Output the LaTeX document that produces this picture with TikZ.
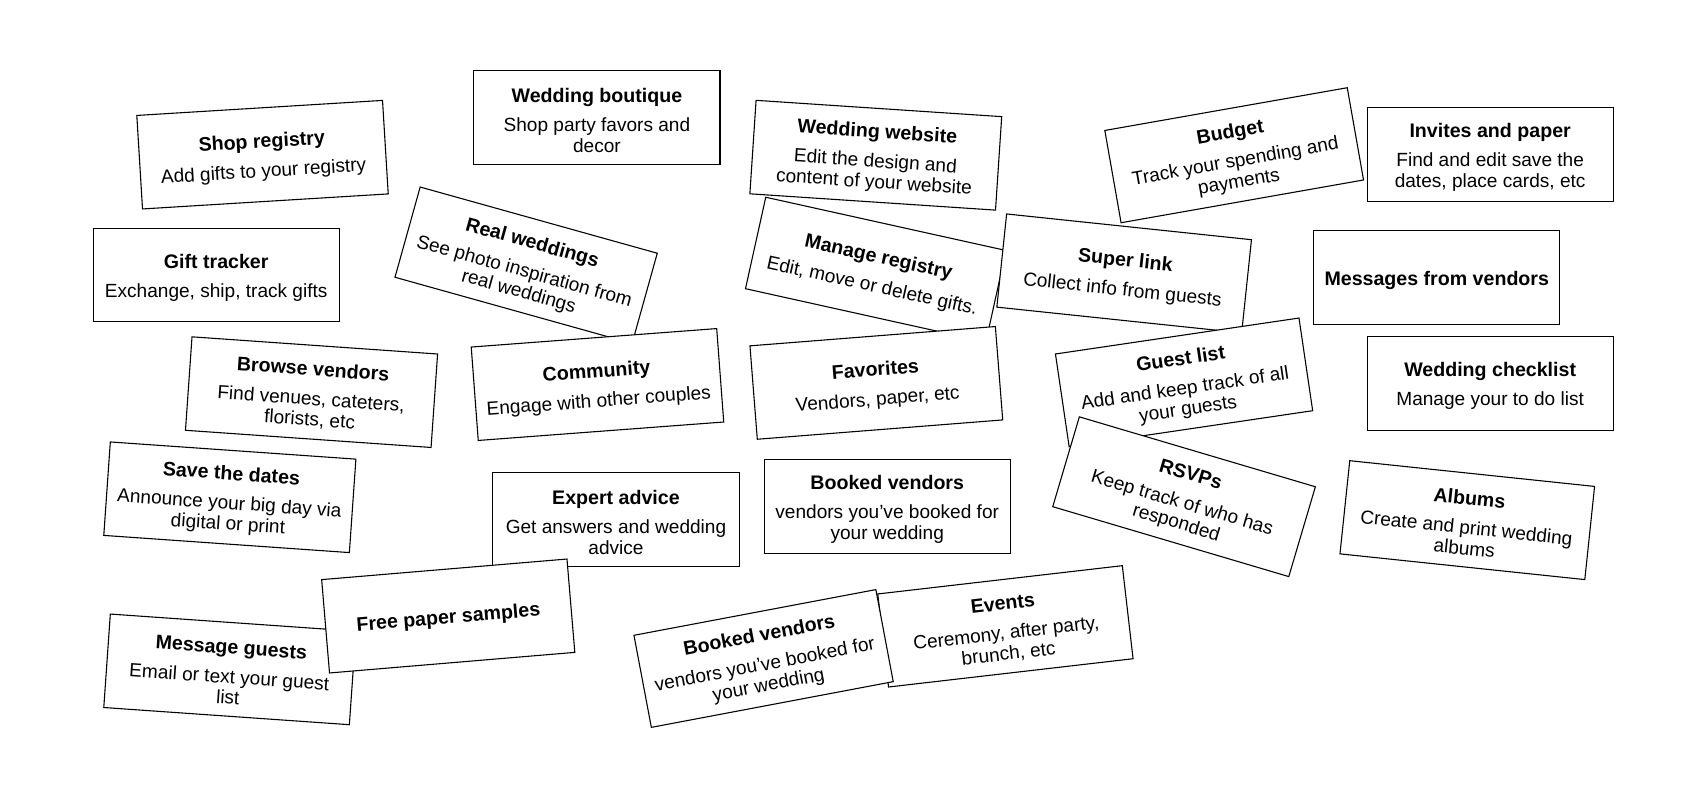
\documentclass[tikz,border=0pt]{standalone}
\usepackage{fontspec}
\setmainfont{Liberation Sans}
\usepackage{tikz}
\newcommand{\cardttl}[1]{{\fontsize{18}{19}\selectfont\bfseries\rule{0pt}{18pt}#1}}

\begin{document}
\begin{tikzpicture}[
  x=1pt, y=-1pt,
  card/.style={rectangle, draw=black, line width=1pt, fill=white,
               minimum width=226pt, minimum height=86pt, inner sep=0pt,
               align=center, font=\fontsize{17.5}{19}\selectfont}
]
\useasboundingbox (0,0) rectangle (1568,734);

\node[card, rotate=3.5] (shopreg) at (241,142)
      {\cardttl{Shop registry}\\[8pt] Add gifts to your registry};
\node[card] (boutique) at (548,108)
      {\cardttl{Wedding boutique}\\[8pt] Shop party favors and\\ decor};
\node[card, rotate=-12.5] (managereg) at (804,247.5)
      {\cardttl{Manage registry}\\[8pt] Edit, move or delete gifts.};
\node[card, rotate=-3.8] (website) at (804,142.5)
      {\cardttl{Wedding website}\\[8pt] Edit the design and\\ content of your website};
\node[card, rotate=10] (budget) at (1133,142.5)
      {\cardttl{Budget}\\[8pt] Track your spending and\\ payments};
\node[card] (invites) at (1368,142)
      {\cardttl{Invites and paper}\\[8pt] Find and edit save the\\ dates, place cards, etc};
\node[card] (gifttrack) at (198.5,252.5)
      {\cardttl{Gift tracker}\\[8pt] Exchange, ship, track gifts};
\node[card, rotate=-15.6] (realwed) at (483,243.5)
      {\cardttl{Real weddings}\\[8pt] See photo inspiration from\\ real weddings};
\node[card, rotate=-6] (superlink) at (1032,251)
      {\cardttl{Super link}\\[8pt] Collect info from guests};
\node[card] (msgvendors) at (1319,255)
      {\cardttl{Messages from vendors}};
\node[card, rotate=-4] (browse) at (286,360)
      {\cardttl{Browse vendors}\\[8pt] Find venues, cateters,\\ florists, etc};
\node[card, rotate=4.3] (community) at (548.5,353)
      {\cardttl{Community}\\[8pt] Engage with other couples};
\node[card, rotate=4.5] (favorites) at (804.5,351.5)
      {\cardttl{Favorites}\\[8pt] Vendors, paper, etc};
\node[card, rotate=8.4] (guestlist) at (1087,351)
      {\cardttl{Guest list}\\[8pt] Add and keep track of all\\ your guests};
\node[card] (checklist) at (1368,352)
      {\cardttl{Wedding checklist}\\[8pt] Manage your to do list};
\node[card, rotate=-4] (savedates) at (211,456.5)
      {\cardttl{Save the dates}\\[8pt] Announce your big day via\\ digital or print};
\node[card] (expert) at (565.5,477)
      {\cardttl{Expert advice}\\[8pt] Get answers and wedding\\ advice};
\node[card] (booked) at (814.5,465)
      {\cardttl{Booked vendors}\\[8pt] vendors you’ve booked for\\ your wedding};
\node[card, rotate=-16.5] (rsvps) at (1087,456)
      {\cardttl{RSVPs}\\[8pt] Keep track of who has\\ responded};
\node[card, rotate=-6] (albums) at (1347,477.5)
      {\cardttl{Albums}\\[8pt] Create and print wedding\\ albums};
\node[card, rotate=-4] (msgguests) at (211,614.5)
      {\cardttl{Message guests}\\[8pt] Email or text your guest\\ list};
\node[card, rotate=4.8] (freepaper) at (411.5,565.5)
      {\cardttl{Free paper samples}};
\node[card, rotate=6.6] (events) at (923,575)
      {\cardttl{Events}\\[8pt] Ceremony, after party,\\ brunch, etc};
\node[card, rotate=10.7] (bookedtwo) at (701,604.5)
      {\cardttl{Booked vendors}\\[8pt] vendors you’ve booked for\\ your wedding};
\end{tikzpicture}
\end{document}
